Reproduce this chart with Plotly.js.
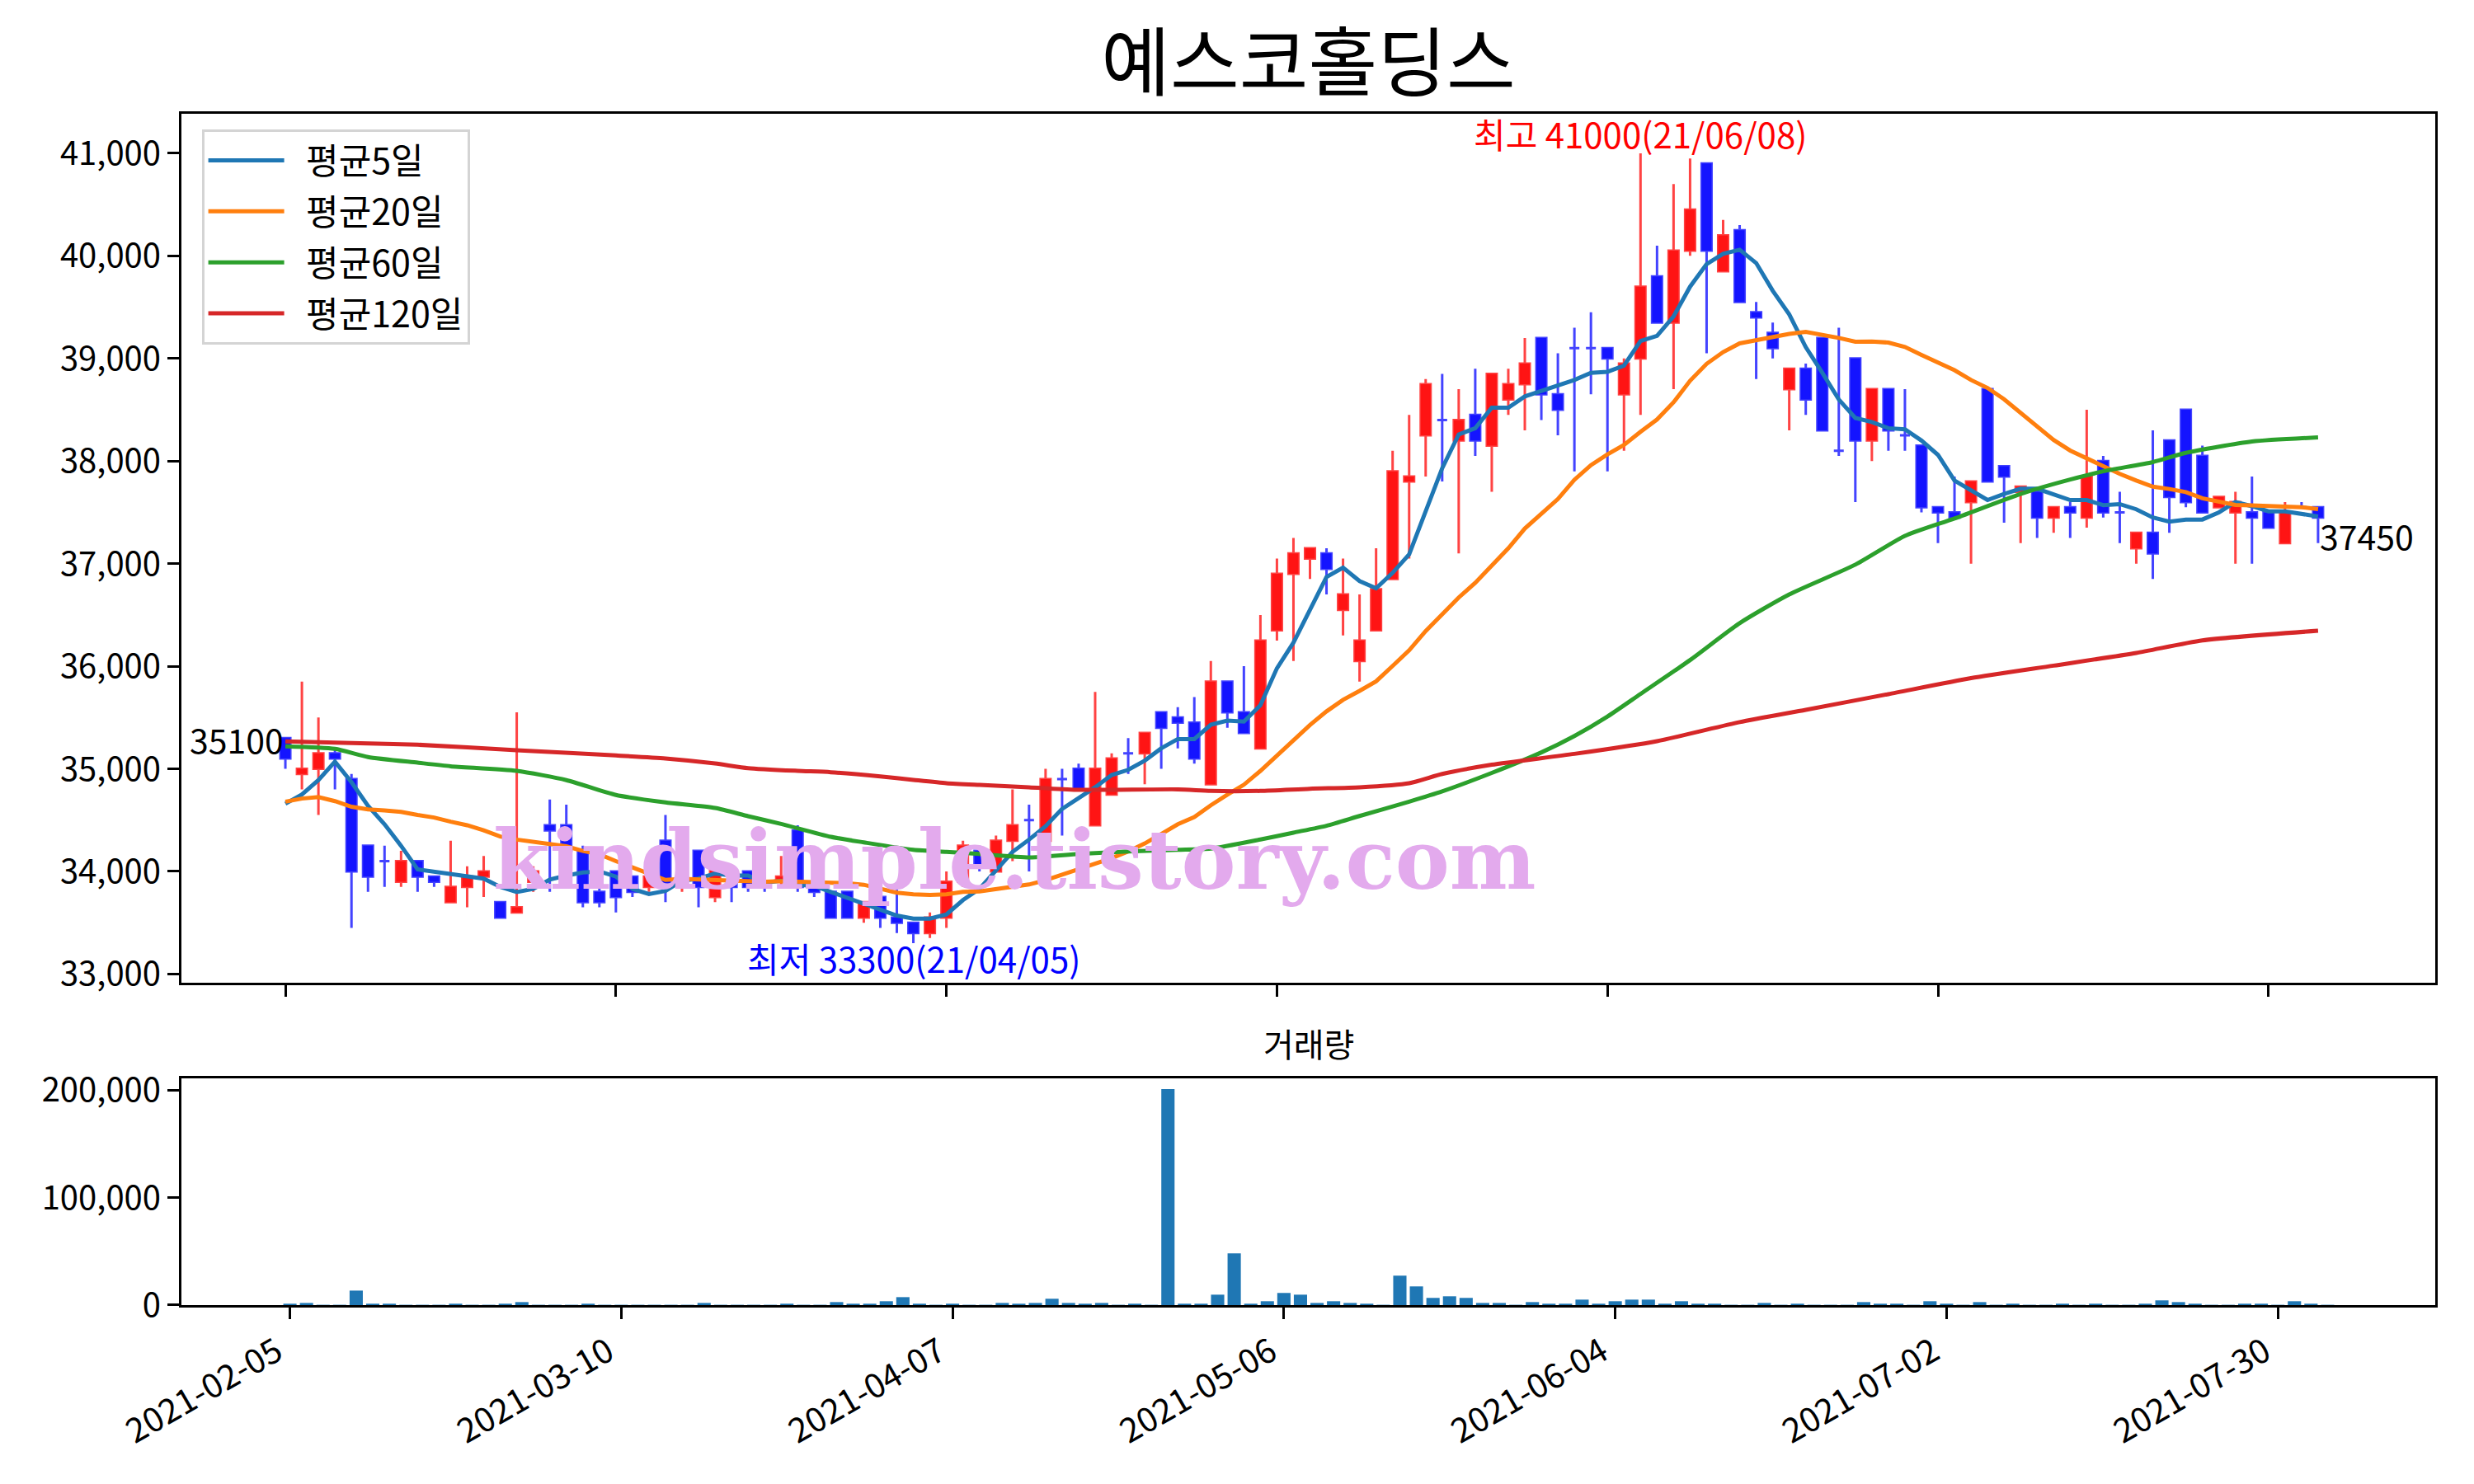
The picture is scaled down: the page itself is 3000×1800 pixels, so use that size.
<!DOCTYPE html>
<html>
<head>
<meta charset="utf-8">
<script src="https://cdn.plot.ly/plotly-3.0.1.min.js"></script>
<style>html,body{margin:0;padding:0;background:#fff;}#chart{width:3000px;height:1800px;}</style>
</head>
<body>
<div id="chart"></div>
<script>
// ---- data ----
const dates = ["2021-02-05","2021-02-08","2021-02-09","2021-02-10","2021-02-15","2021-02-16","2021-02-17","2021-02-18","2021-02-19","2021-02-22",
"2021-02-23","2021-02-24","2021-02-25","2021-02-26","2021-03-02","2021-03-03","2021-03-04","2021-03-05","2021-03-08","2021-03-09",
"2021-03-10","2021-03-11","2021-03-12","2021-03-15","2021-03-16","2021-03-17","2021-03-18","2021-03-19","2021-03-22","2021-03-23",
"2021-03-24","2021-03-25","2021-03-26","2021-03-29","2021-03-30","2021-03-31","2021-04-01","2021-04-02","2021-04-05","2021-04-06",
"2021-04-07","2021-04-08","2021-04-09","2021-04-12","2021-04-13","2021-04-14","2021-04-15","2021-04-16","2021-04-19","2021-04-20",
"2021-04-21","2021-04-22","2021-04-23","2021-04-26","2021-04-27","2021-04-28","2021-04-29","2021-04-30","2021-05-03","2021-05-04",
"2021-05-06","2021-05-07","2021-05-10","2021-05-11","2021-05-12","2021-05-13","2021-05-14","2021-05-17","2021-05-18","2021-05-20",
"2021-05-21","2021-05-24","2021-05-25","2021-05-26","2021-05-27","2021-05-28","2021-05-31","2021-06-01","2021-06-02","2021-06-03",
"2021-06-04","2021-06-07","2021-06-08","2021-06-09","2021-06-10","2021-06-11","2021-06-14","2021-06-15","2021-06-16","2021-06-17",
"2021-06-18","2021-06-21","2021-06-22","2021-06-23","2021-06-24","2021-06-25","2021-06-28","2021-06-29","2021-06-30","2021-07-01",
"2021-07-02","2021-07-05","2021-07-06","2021-07-07","2021-07-08","2021-07-09","2021-07-12","2021-07-13","2021-07-14","2021-07-15",
"2021-07-16","2021-07-19","2021-07-20","2021-07-21","2021-07-22","2021-07-23","2021-07-26","2021-07-27","2021-07-28","2021-07-29",
"2021-07-30","2021-08-02","2021-08-03","2021-08-04"];

const opens = [35300,34950,35000,35150,34900,34250,34100,33900,34100,33950,
33700,33850,33950,33700,33600,33900,34450,34450,34200,33800,
34000,33950,33850,34300,33950,34200,33750,33900,34000,33900,
33900,34400,33850,33800,33800,33550,33750,33550,33500,33400,
33550,33900,34200,34000,34300,34500,34300,34900,35000,34450,
34750,35150,35150,35550,35500,35450,34850,35850,35550,35200,
36350,36900,37050,37100,36550,36050,36350,36850,37800,38250,
38400,38200,38450,38150,38600,38750,39200,38650,39100,39100,
39100,38650,39000,39800,39350,40050,40900,39850,40250,39450,
39250,38700,38900,39200,38100,39000,38200,38700,38250,38150,
37550,37500,37600,38700,37950,37700,37700,37450,37550,37450,
38000,37500,37150,37300,38200,38500,38050,37550,37500,37500,
37500,37200,37550,37550];

const highs = [35300,35850,35500,35200,34950,34250,34250,34200,34100,33950,
34300,34050,34150,33700,35550,34050,34700,34650,34250,33900,
34000,33950,34000,34550,34250,34200,34050,34000,34000,33950,
34150,34450,33850,33800,33800,33700,33750,33850,33500,33600,
34000,34300,34250,34350,34800,34650,35000,35000,35050,35750,
35150,35300,35350,35550,35600,35700,36050,35850,36000,36500,
37050,37250,37150,37150,37050,36700,37150,38100,38450,38800,
38850,38700,38900,38850,38900,39200,39200,39050,39300,39450,
39100,39000,41000,40100,40700,40950,40900,40350,40300,39550,
39350,38900,38950,39200,39300,39000,38700,38700,38700,38150,
37550,37850,37800,38700,37950,37750,37700,37550,37600,38500,
38050,37700,37300,38300,38200,38500,38150,37650,37700,37850,
37500,37600,37600,37550];

const lows = [35000,34800,34550,34800,33450,33800,33850,33850,33800,33850,
33700,33650,33750,33550,33600,33800,33800,34150,33650,33650,
33600,33750,33800,33700,33800,33650,33700,33700,33800,33800,
33850,33800,33750,33550,33550,33500,33450,33400,33300,33350,
33450,33850,34000,34000,34100,34000,34300,34350,34800,34450,
34750,34950,34850,35000,35200,35050,34850,35400,35350,35200,
36250,36050,36850,36700,36300,35850,36350,36850,37050,37850,
37800,37100,38050,37700,38450,38300,38400,38250,37900,38650,
37900,38100,38450,39350,38700,40000,39050,39850,39550,38800,
39000,38300,38450,38300,38050,37600,38000,38100,38100,37500,
37200,37450,37000,37800,37400,37200,37250,37300,37250,37350,
37450,37200,37000,36850,37300,37550,37500,37550,37000,37000,
37350,37200,37550,37200];

const closes = [35100,35000,35150,35100,34000,33950,34100,34100,33950,33900,
33850,33950,34000,33550,33650,34000,34400,34200,33700,33700,
33750,33800,33950,33850,34200,33850,34050,33850,33850,33850,
33950,33850,33800,33550,33550,33700,33550,33500,33400,33550,
33900,34250,34050,34300,34450,34500,34900,34900,34800,35000,
35100,35150,35350,35400,35450,35100,35850,35550,35350,36250,
36900,37100,37150,36950,36700,36250,36750,37900,37850,38750,
38400,38400,38200,38850,38750,38950,38650,38500,39100,39100,
39000,38950,39700,39350,40050,40450,40050,40200,39550,39400,
39100,38900,38600,38300,38100,38200,38700,38300,38250,37550,
37500,37450,37800,37800,37850,37750,37450,37550,37500,37850,
37500,37500,37300,37100,37650,37600,37500,37650,37600,37450,
37350,37500,37550,37450];

// candle colour seen in the picture: 1 = red (up), 0 = blue (down)
const candleUp = [0,1,1,0,0,0,0,1,0,0, 1,1,1,0,1,1,0,0,0,0,
0,0,1,0,1,0,1,0,0,0, 1,0,0,0,0,1,0,0,0,1,
1,1,0,1,1,0,1,0,0,1, 1,0,1,0,0,0,1,0,0,1,
1,1,1,0,1,1,1,1,1,1, 0,1,0,1,1,1,0,0,0,0,
0,1,1,0,1,1,0,1,0,0, 0,1,0,0,0,0,1,0,0,0,
0,0,1,0,0,1,0,1,0,1, 0,0,1,0,0,0,0,1,1,0,
0,1,0,0];

const volumes = [1300,2000,300,300,13500,1300,1300,300,300,300,
1300,300,300,1300,2800,300,300,300,1300,300,
300,300,300,300,300,2000,300,300,300,300,
1300,300,300,2800,1300,1300,3600,7400,1300,300,
1300,300,300,2000,1300,2000,5900,2000,1300,2000,
300,1300,300,200900,1300,1300,9700,48100,1300,3600,
11300,9700,2000,3600,2000,1300,300,27400,17400,6700,
8200,6700,2000,2000,300,2800,1300,1300,5100,1300,
3600,5100,5100,1300,3600,1300,1300,300,300,2000,
300,1300,300,300,300,2800,1300,1300,300,3600,
1300,300,2800,300,1300,300,300,1300,300,1300,
300,300,1300,4400,2800,1300,300,300,1300,1300,
300,3600,1300,300];

// moving-average values read off the picture where the window is not yet full
const ma5Head = [34660,34750,34890,35070];
const ma20Head = [34680,34710,34725,34685,34630,34605,34595,34580,34550,34525,
34485,34450,34400,34340,34310,34285,34270,34245,34200];

// 60- and 120-day averages at sample positions
const ma60Idx = [0,3,5,8,10,14,17,20,23,26,28,30,33,35,38,40,42,45,48,51,54,56,59,61,63,65,68,70,73,76,78,80,82,85,88,91,95,98,101,105,108,110,113,115,119,123];
const ma60Val = [35220,35195,35115,35060,35025,34980,34890,34745,34672,34618,34538,34463,34337,34283,34210,34190,34170,34136,34170,34195,34210,34222,34311,34378,34445,34540,34680,34780,34960,35160,35320,35510,35730,36060,36420,36700,36990,37270,37440,37680,37820,37900,37990,38080,38190,38230];
const ma120Idx = [0,3,8,14,20,23,26,28,31,33,36,38,40,42,45,48,54,56,59,62,65,68,70,73,78,83,88,92,97,102,107,112,116,123];
const ma120Val = [35267,35256,35235,35181,35130,35101,35052,35007,34980,34967,34926,34892,34860,34843,34820,34795,34800,34785,34785,34806,34820,34860,34950,35040,35146,35270,35455,35575,35728,35884,36006,36129,36252,36346];

const maNames = ['평균5일','평균20일','평균60일','평균120일'];
const yTicks = [33000,34000,35000,36000,37000,38000,39000,40000,41000];
const volTicks = [0,100000,200000];
const tickIdx = [0,20,40,60,80,100,120];

// ---- build ----
const idx = dates.map((d,i)=>i);
function rolling(vals, n, head){
  return vals.map((v,i)=>{
    if(i < n-1) return head[i];
    let s = 0; for(let k=i-n+1;k<=i;k++) s += vals[k];
    return s/n;
  });
}
const ma5 = rolling(closes,5,ma5Head);
const ma20 = rolling(closes,20,ma20Head);

function subset(flag){
  const o={x:[],open:[],high:[],low:[],close:[]};
  idx.forEach(i=>{ if(candleUp[i]===flag){o.x.push(i);o.open.push(opens[i]);o.high.push(highs[i]);o.low.push(lows[i]);o.close.push(closes[i]);} });
  return o;
}
const up = subset(1), dn = subset(0);
const RED_L='rgba(255,20,20,0.8)', RED_F='rgba(255,0,0,0.92)';
const BLU_L='rgba(20,20,255,0.8)', BLU_F='rgba(0,0,255,0.92)';
function candle(s, lc, fc){
  return Object.assign({type:'candlestick', xaxis:'x', yaxis:'y', showlegend:false, hoverinfo:'skip', whiskerwidth:0,
    increasing:{line:{color:lc,width:3},fillcolor:fc}, decreasing:{line:{color:lc,width:3},fillcolor:fc}}, s);
}
const FONT = '"Noto Sans CJK KR", "Noto Sans", sans-serif';
const pad = s => '\u2002' + s;
const traces = [
  candle(up, RED_L, RED_F),
  candle(dn, BLU_L, BLU_F),
  {type:'scatter',mode:'lines',x:idx,y:ma5,name:pad(maNames[0]),legendgroup:'a',line:{color:'#1f77b4',width:5},hoverinfo:'skip'},
  {type:'scatter',mode:'lines',x:idx,y:ma20,name:pad(maNames[1]),legendgroup:'b',line:{color:'#ff7f0e',width:5},hoverinfo:'skip'},
  {type:'scatter',mode:'lines',x:ma60Idx,y:ma60Val,name:pad(maNames[2]),legendgroup:'c',line:{color:'#2ca02c',width:5,shape:'spline',smoothing:0.6},hoverinfo:'skip'},
  {type:'scatter',mode:'lines',x:ma120Idx,y:ma120Val,name:pad(maNames[3]),legendgroup:'d',line:{color:'#d62728',width:5,shape:'spline',smoothing:0.6},hoverinfo:'skip'},
  {type:'bar',x:idx,y:volumes,xaxis:'x2',yaxis:'y2',marker:{color:'#1f77b4',line:{width:0}},width:0.8,showlegend:false,hoverinfo:'skip'}
];

const axisCommon = {showline:true, mirror:true, linecolor:'#000', linewidth:3, ticks:'outside', ticklen:14, tickwidth:3, tickcolor:'#000',
  showgrid:false, zeroline:false, tickfont:{size:40,color:'#000',family:FONT}};

const hiI = highs.indexOf(Math.max(...highs));
const loI = lows.indexOf(Math.min(...lows));
const fmtD = d => d.slice(2).replace(/-/g,'/');
const last = closes.length-1;

const layout = {
  width:3000, height:1800,
  paper_bgcolor:'#fff', plot_bgcolor:'#fff',
  font:{family:FONT, color:'#000', size:40},
  margin:{l:220, r:47, t:138, b:217},
  boxgap:0.4, boxgroupgap:0,
  title:{text:'예스코홀딩스', x:0.5, xref:'paper', xanchor:'center', y:1-77/1800, yref:'container', yanchor:'middle', font:{size:91,color:'#000',family:FONT}},
  showlegend:true,
  legend:{x:0.009, y:0.9869, xanchor:'left', yanchor:'top', bgcolor:'#fff', bordercolor:'#d4d4d4', borderwidth:3,
    font:{size:43,family:FONT,color:'#000'}, tracegroupgap:3, itemwidth:92},
  xaxis: Object.assign({}, axisCommon, {domain:[0,1], anchor:'y', range:[-6.29,130.09], tickvals:tickIdx, showticklabels:false, rangeslider:{visible:false}}),
  yaxis: Object.assign({}, axisCommon, {domain:[0.2706,1], anchor:'x', range:[32915,41385], tickvals:yTicks, tickformat:','}),
  xaxis2: Object.assign({}, axisCommon, {domain:[0,1], anchor:'y2', range:[-6.55,129.5], tickvals:tickIdx, ticktext:tickIdx.map(i=>dates[i]), tickangle:-30, ticklabelshift:-16, tickfont:{size:41,color:'#000',family:FONT}}),
  yaxis2: Object.assign({}, axisCommon, {domain:[0,0.1903], anchor:'x2', range:[0,210945], tickvals:volTicks, tickformat:','}),
  annotations:[
    {xref:'x', yref:'y', x:hiI, y:highs[hiI], yshift:-8, text:'최고 '+highs[hiI]+'('+fmtD(dates[hiI])+')', showarrow:false, xanchor:'center', yanchor:'bottom', font:{size:42,color:'#ff0000',family:FONT}},
    {xref:'x', yref:'y', x:loI, y:lows[loI], yshift:15, text:'최저 '+lows[loI]+'('+fmtD(dates[loI])+')', showarrow:false, xanchor:'center', yanchor:'top', font:{size:42,color:'#0000ff',family:FONT}},
    {xref:'x', yref:'y', x:0, y:closes[0], yshift:-8, text:String(closes[0]), showarrow:false, xanchor:'right', yanchor:'bottom', font:{size:41,color:'#000',family:FONT}},
    {xref:'x', yref:'y', x:last, y:closes[last], yshift:11, text:String(closes[last]), showarrow:false, xanchor:'left', yanchor:'top', font:{size:41,color:'#000',family:FONT}},
    {xref:'paper', yref:'paper', x:0.5, y:0.22, text:'거래량', showarrow:false, xanchor:'center', yanchor:'middle', font:{size:40,color:'#000',family:FONT}},
    {xref:'paper', yref:'paper', x:0.3696, y:0.3737, text:'kindsimple.tistory.com', showarrow:false, xanchor:'center', yanchor:'middle',
      font:{size:99,color:'#e3aaed',family:'"DejaVu Serif", serif', weight:'bold'}}
  ]
};

Plotly.newPlot('chart', traces, layout, {staticPlot:true, displayModeBar:false});
</script>
</body>
</html>
